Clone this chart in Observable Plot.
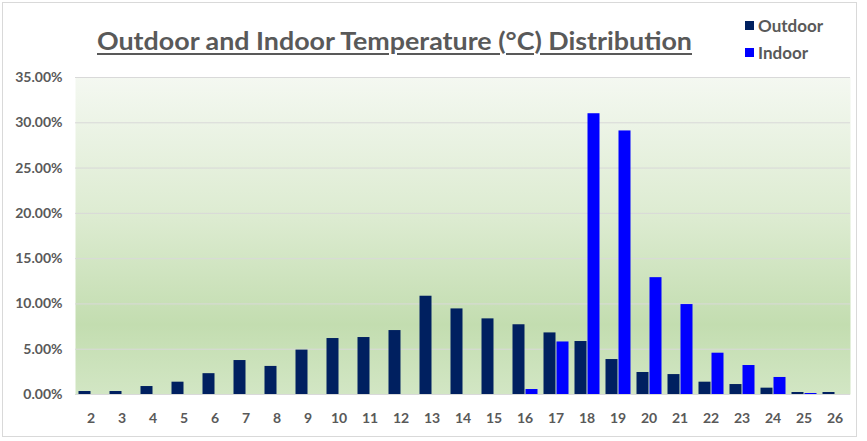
<!DOCTYPE html>
<html><head><meta charset="utf-8">
<script src="https://cdn.jsdelivr.net/npm/d3@7"></script>
<script src="https://cdn.jsdelivr.net/npm/@observablehq/plot@0.6"></script>
<style>
body{margin:0;background:#fff;}
#wrap{position:relative;width:867px;height:441px;overflow:hidden;font-family:Lato,"Open Sans",sans-serif;background:#fff;}
#border{position:absolute;left:2px;top:2px;width:855px;height:435px;border:1px solid #d9d9d9;box-sizing:border-box;pointer-events:none;}
#title{position:absolute;left:97px;top:24px;font-weight:bold;font-size:25px;line-height:32px;color:#595959;text-decoration:underline;text-decoration-thickness:2px;text-underline-offset:3px;white-space:nowrap;transform-origin:0 0;}
.leg{position:absolute;left:745px;font-weight:bold;font-size:17px;color:#595959;display:flex;align-items:center;white-space:nowrap;}
.leg span.sw{display:inline-block;width:9px;height:9px;margin-right:4px;}
#chart{position:absolute;left:0;top:0;}
</style>
</head><body>
<div id="wrap">
  <div id="chart"></div>
  <div id="title">Outdoor and Indoor Temperature (°C) Distribution</div>
  <div class="leg" style="top:15px"><span class="sw" style="background:#002060"></span>Outdoor</div>
  <div class="leg" style="top:42px"><span class="sw" style="background:#0000ff"></span>Indoor</div>
  <div id="border"></div>
</div>
<script>
const temps = [2,3,4,5,6,7,8,9,10,11,12,13,14,15,16,17,18,19,20,21,22,23,24,25,26];
const outdoorPct = [0.33,0.33,0.88,1.36,2.3,3.75,3.1,4.9,6.18,6.29,7.06,10.85,9.45,8.35,7.7,6.8,5.85,3.86,2.43,2.2,1.36,1.1,0.7,0.22,0.22];
const indoorPct = [0,0,0,0,0,0,0,0,0,0,0,0,0,0,0.55,5.8,31.0,29.1,12.9,9.93,4.56,3.2,1.88,0.11,0];
const yTicks = [0,0.05,0.10,0.15,0.20,0.25,0.30,0.35];
const seriesNames = ["Outdoor","Indoor"];
const seriesColors = ["#002060","#0000ff"];

const data = temps.map((t,i)=>({t, outdoor: outdoorPct[i]/100, indoor: indoorPct[i]/100}));

const svg = Plot.plot({
  width: 867, height: 441,
  marginLeft: 75, marginRight: 17, marginTop: 77, marginBottom: 47,
  style: {fontFamily: "Lato, 'Open Sans', sans-serif", fontSize: "14px", fontWeight: "bold", color: "#595959", background: "transparent", overflow: "visible"},
  x: {type: "band", domain: temps, padding: 0, label: null},
  y: {domain: [0, 0.35], label: null},
  marks: [
    Plot.frame({fill: "#c5deb0", stroke: "none"}),
    Plot.gridY(yTicks, {stroke: "#d9d9d9", strokeOpacity: 1}),
    Plot.barY(data, {x: "t", y: "outdoor", fill: seriesColors[0], insetLeft: 3.5, insetRight: 15.5}),
    Plot.barY(data, {x: "t", y: "indoor", fill: seriesColors[1], insetLeft: 16.5, insetRight: 2.5}),
    Plot.ruleY([0], {stroke: "#d9d9d9"}),
    Plot.axisX({tickSize: 0, tickPadding: 19, label: null}),
    Plot.axisY(yTicks, {tickSize: 0, tickPadding: 13, tickFormat: d3.format(".2%"), label: null})
  ]
});

const ns = "http://www.w3.org/2000/svg";
const defs = document.createElementNS(ns, "defs");
defs.innerHTML = `<linearGradient id="bg" x1="0" y1="0" x2="0" y2="1">
  <stop offset="0" stop-color="#f4f8f1"/>
  <stop offset="0.45" stop-color="#dcebd0"/>
  <stop offset="0.78" stop-color="#c3ddb0"/>
  <stop offset="1" stop-color="#d2e6c4"/>
</linearGradient>`;
svg.insertBefore(defs, svg.firstChild);
d3.select(svg).selectAll('[aria-label="frame"], [aria-label="frame"] rect').attr("fill", "url(#bg)");

document.getElementById("chart").appendChild(svg);

// fit title width to the reference span
const title = document.getElementById("title");
const w = title.getBoundingClientRect().width;
title.style.transform = `scaleX(${595 / w})`;
</script>
</body></html>
